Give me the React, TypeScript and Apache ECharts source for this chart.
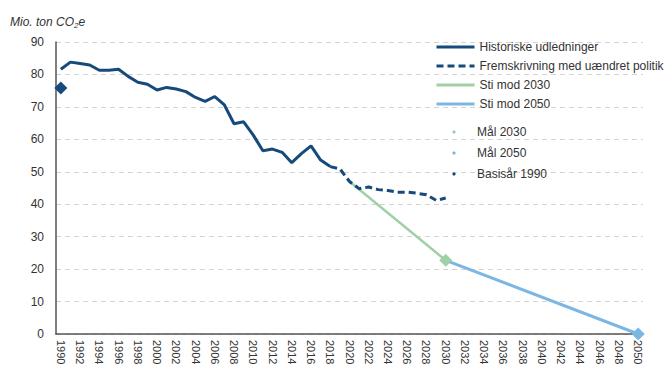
import React, { useEffect, useRef } from "react";
import * as echarts from "echarts";

const years: string[] = [];
for (let y = 1990; y <= 2050; y++) years.push(String(y));

// Historical emissions 1990-2018
const historicalYears = [
  1990, 1991, 1992, 1993, 1994, 1995, 1996, 1997, 1998, 1999, 2000, 2001, 2002, 2003, 2004,
  2005, 2006, 2007, 2008, 2009, 2010, 2011, 2012, 2013, 2014, 2015, 2016, 2017, 2018,
];
const historicalValues = [
  81.6, 83.8, 83.4, 82.9, 81.3, 81.3, 81.6, 79.4, 77.6, 77.0, 75.2, 76.0, 75.5, 74.7, 72.9,
  71.7, 73.2, 70.6, 64.8, 65.4, 61.3, 56.5, 57.0, 56.0, 52.8, 55.6, 58.0, 53.6, 51.6,
];

// Projection with unchanged policy 2018-2030
const projectionYears = [2018, 2019, 2020, 2021, 2022, 2023, 2024, 2025, 2026, 2027, 2028, 2029, 2030];
const projectionValues = [51.6, 50.9, 47.0, 44.8, 45.3, 44.5, 44.2, 43.7, 43.7, 43.4, 42.9, 41.2, 41.9];

// Paths
const path2030Years = [2020, 2030];
const path2030Values = [47.0, 22.7];
const path2050Years = [2030, 2050];
const path2050Values = [22.7, 0];

// Markers
const target2030 = { year: 2030, value: 22.7 };
const target2050 = { year: 2050, value: 0 };
const baseYear1990 = { year: 1990, value: 75.8 };

const yTicks = [0, 10, 20, 30, 40, 50, 60, 70, 80, 90];

const NAVY = "#164a7b";
const GREEN = "#9fd0a6";
const LBLUE = "#7cb6e2";
const FONT = "Liberation Sans";

function toSeries(ys: number[], vs: number[]) {
  const arr: (number | null)[] = years.map(() => null);
  ys.forEach((y, i) => {
    arr[y - 1990] = vs[i];
  });
  return arr;
}

export default function App() {
  const ref = useRef<HTMLDivElement>(null);
  useEffect(() => {
    if (!ref.current) return;
    const chart = echarts.init(ref.current, undefined, { renderer: "svg" });
    chart.setOption({
      animation: false,
      textStyle: { fontFamily: FONT },
      title: {
        left: 5,
        top: 10,
        text: "{a|Mio. ton CO}{s|2}{a|e}",
        textStyle: {
          rich: {
            a: { fontFamily: FONT, fontSize: 12, fontStyle: "italic", color: "#333", fontWeight: "normal" },
            s: { fontFamily: FONT, fontSize: 8, fontStyle: "italic", color: "#333", verticalAlign: "bottom", padding: [6, 0, 0, 0], fontWeight: "normal" },
          },
        },
      },
      grid: { left: 56, right: 22, top: 42, bottom: 50, containLabel: false },
      legend: [
        {
          orient: "vertical",
          left: 430,
          top: 36,
          itemWidth: 38,
          itemHeight: 14,
          itemGap: 7,
          selectedMode: false,
          itemStyle: { color: "rgba(0,0,0,0)", borderWidth: 0, opacity: 0 },
          lineStyle: { width: 3 },
          textStyle: { fontFamily: FONT, fontSize: 12, color: "#333" },
          data: ["Historiske udledninger", "Fremskrivning med uændret politik", "Sti mod 2030", "Sti mod 2050"],
        },
        {
          orient: "vertical",
          left: 447,
          top: 120,
          itemWidth: 4,
          itemHeight: 4,
          itemGap: 7,
          icon: "diamond",
          selectedMode: false,
          textStyle: { fontFamily: FONT, fontSize: 12, color: "#333", lineHeight: 14, padding: [0, 0, 0, 16] },
          data: ["Mål 2030", "Mål 2050", "Basisår 1990"],
        },
      ],
      xAxis: {
        type: "category",
        data: years,
        boundaryGap: true,
        axisLine: { show: true, lineStyle: { color: "#555", width: 1.5 } },
        axisTick: { show: false },
        axisLabel: {
          interval: 1,
          rotate: -90,
          fontFamily: FONT,
          fontSize: 11,
          color: "#333",
          margin: 6,
        },
        splitLine: { show: false },
      },
      yAxis: {
        type: "value",
        min: yTicks[0],
        max: yTicks[yTicks.length - 1],
        interval: 10,
        axisLine: { show: true, lineStyle: { color: "#555", width: 1.5 } },
        axisTick: { show: false },
        axisLabel: { fontFamily: FONT, fontSize: 12, color: "#333", margin: 12 },
        splitLine: { show: true, lineStyle: { color: "#d3d3d3", type: [5, 4], width: 1 } },
      },
      series: [
        {
          name: "Historiske udledninger",
          type: "line",
          data: toSeries(historicalYears, historicalValues),
          symbol: "none",
          lineStyle: { color: NAVY, width: 3 },
          itemStyle: { color: NAVY },
          z: 5,
        },
        {
          name: "Fremskrivning med uændret politik",
          type: "line",
          data: toSeries(projectionYears, projectionValues),
          symbol: "none",
          lineStyle: { color: NAVY, width: 3, type: [7, 4] },
          itemStyle: { color: NAVY },
          z: 5,
        },
        {
          name: "Sti mod 2030",
          type: "line",
          data: toSeries(path2030Years, path2030Values),
          connectNulls: true,
          symbol: "none",
          lineStyle: { color: GREEN, width: 2.5 },
          itemStyle: { color: GREEN },
          z: 4,
        },
        {
          name: "Sti mod 2050",
          type: "line",
          data: toSeries(path2050Years, path2050Values),
          connectNulls: true,
          symbol: "none",
          lineStyle: { color: LBLUE, width: 3 },
          itemStyle: { color: LBLUE },
          z: 4,
        },
        {
          name: "Mål 2030",
          type: "scatter",
          symbol: "diamond",
          symbolSize: 13,
          data: [[target2030.year - 1990, target2030.value]],
          itemStyle: { color: GREEN, opacity: 1 },
          z: 6,
        },
        {
          name: "Mål 2050",
          type: "scatter",
          symbol: "diamond",
          symbolSize: 13,
          data: [[target2050.year - 1990, target2050.value]],
          itemStyle: { color: LBLUE, opacity: 1 },
          z: 6,
        },
        {
          name: "Basisår 1990",
          type: "scatter",
          symbol: "diamond",
          symbolSize: 13,
          data: [[baseYear1990.year - 1990, baseYear1990.value]],
          itemStyle: { color: NAVY, opacity: 1 },
          z: 6,
        },
      ],
    });
    return () => chart.dispose();
  }, []);
  return <div ref={ref} style={{ width: 665, height: 384, position: "absolute", left: 0, top: 0 }} />;
}
